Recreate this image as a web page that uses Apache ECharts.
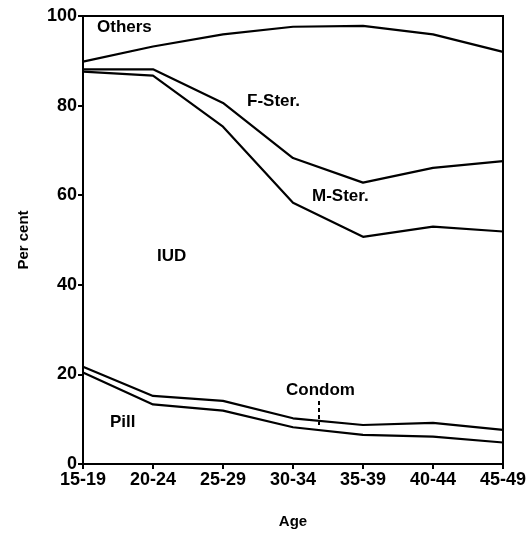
<!DOCTYPE html>
<html>
<head>
<meta charset="utf-8">
<script src="https://cdn.jsdelivr.net/npm/echarts@6/dist/echarts.min.js"></script>
<style>html,body{margin:0;padding:0;background:#fff}#c{width:530px;height:534px}</style>
</head>
<body>
<div id="c"></div>
<script>
const ageGroups = ['15-19','20-24','25-29','30-34','35-39','40-44','45-49'];
const pill   = [20.4, 13.3, 11.9, 8.2, 6.5, 6.1, 4.8];
const condom = [1.3, 1.9, 2.2, 2.0, 2.2, 3.1, 2.8];
const iud    = [65.9, 71.5, 61.2, 48.1, 42.0, 43.8, 44.3];
const mSter  = [0.5, 1.4, 5.3, 10.0, 12.1, 13.1, 15.7];
const fSter  = [1.7, 5.1, 15.3, 29.3, 35.0, 29.8, 24.4];
const yTicks = [0, 20, 40, 60, 80, 100];

const font = '"Liberation Sans", Arial, sans-serif';
const chart = echarts.init(document.getElementById('c'));
function line(name, data) {
  return { name, type: 'line', stack: 'total', data, symbol: 'none',
    lineStyle: { color: '#000', width: 2.2 }, animation: false };
}
const lbl = (x, y, t) => ({ type: 'text', x, y, style: { text: t, font: 'bold 17px ' + font, fill: '#000' } });
chart.setOption({
  backgroundColor: '#fff',
  grid: { left: 83, right: 27, top: 16, bottom: 70, show: true, borderColor: '#000', borderWidth: 2, backgroundColor: 'transparent' },
  xAxis: {
    type: 'category', data: ageGroups, boundaryGap: false,
    name: 'Age', nameLocation: 'middle', nameGap: 50,
    nameTextStyle: { fontFamily: font, fontWeight: 'bold', fontSize: 15, color: '#000' },
    axisLine: { lineStyle: { color: '#000', width: 2 } },
    axisTick: { show: true, length: 5, lineStyle: { color: '#000', width: 2 } },
    axisLabel: { fontFamily: font, fontWeight: 'bold', fontSize: 18, color: '#000', margin: 7 },
    splitLine: { show: false }
  },
  yAxis: {
    type: 'value', min: 0, max: 100, interval: 20,
    name: 'Per cent', nameLocation: 'middle', nameGap: 52, nameRotate: 90,
    nameTextStyle: { fontFamily: font, fontWeight: 'bold', fontSize: 15, color: '#000' },
    axisLine: { show: true, lineStyle: { color: '#000', width: 2 } },
    axisTick: { show: true, length: 5, lineStyle: { color: '#000', width: 2 } },
    axisLabel: { fontFamily: font, fontWeight: 'bold', fontSize: 18, color: '#000', margin: 6,
      formatter: v => yTicks.includes(v) ? String(v) : '' },
    splitLine: { show: false }
  },
  series: [line('Pill', pill), line('Condom', condom), line('IUD', iud), line('M-Ster.', mSter), line('F-Ster.', fSter)],
  graphic: [
    lbl(97, 19, 'Others'),
    lbl(247, 93, 'F-Ster.'),
    lbl(312, 188, 'M-Ster.'),
    lbl(157, 248, 'IUD'),
    lbl(286, 382, 'Condom'),
    lbl(110, 414, 'Pill'),
    { type: 'line', shape: { x1: 319, y1: 401, x2: 319, y2: 425 },
      style: { stroke: '#000', lineWidth: 2, lineDash: [4, 3] } }
  ]
});
</script>
</body>
</html>
